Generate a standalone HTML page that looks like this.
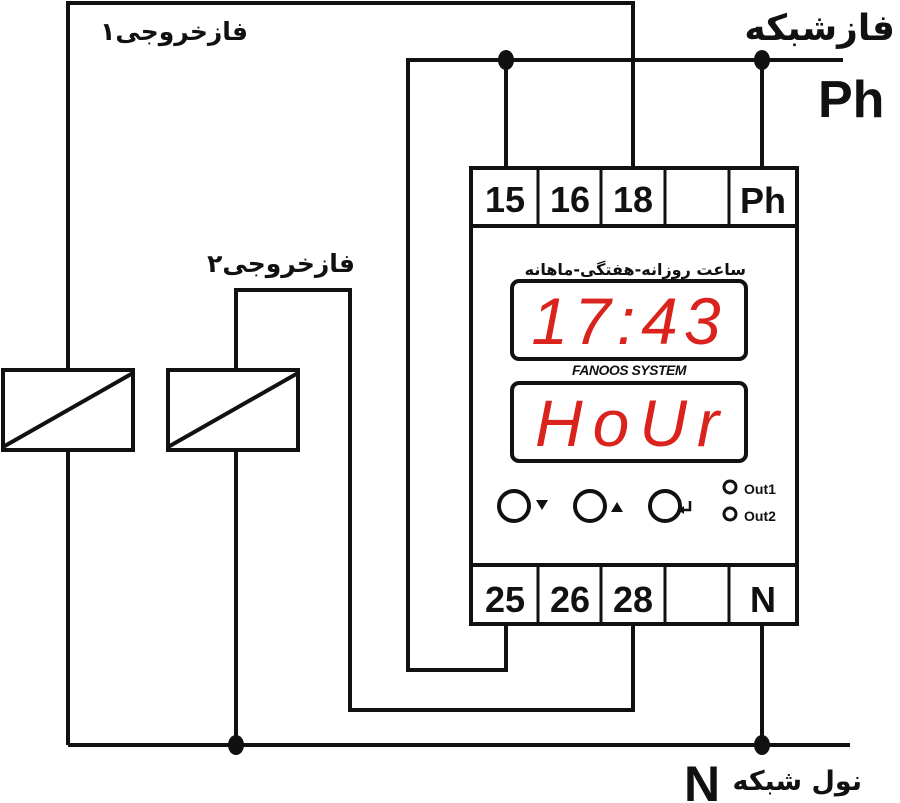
<!DOCTYPE html>
<html><head><meta charset="utf-8"><style>
html,body{margin:0;padding:0;background:#fff;}
svg{display:block}
text{font-family:"Liberation Sans","DejaVu Sans",sans-serif;font-weight:bold;}
.fa{font-family:"DejaVu Sans","Noto Sans CJK SC",sans-serif;font-weight:bold;}
</style></head><body>
<svg width="900" height="803" viewBox="0 0 900 803" xmlns="http://www.w3.org/2000/svg">
<g fill="none" stroke="#111" stroke-width="4" stroke-linejoin="miter">
  <polyline points="68,370 68,3 633,3 633,167"/>
  <line x1="68" y1="450" x2="68" y2="745"/>
  <polyline points="843,60 408,60 408,670 506,670 506,625"/>
  <line x1="506" y1="60" x2="506" y2="167"/>
  <line x1="762" y1="60" x2="762" y2="167"/>
  <polyline points="236,370 236,290 350,290 350,710 633,710 633,625"/>
  <line x1="236" y1="450" x2="236" y2="745"/>
  <line x1="68" y1="745" x2="850" y2="745"/>
  <line x1="762" y1="625" x2="762" y2="745"/>
  <rect x="3" y="370" width="130" height="80" fill="#fff"/>
  <line x1="3" y1="447" x2="133" y2="373"/>
  <rect x="168" y="370" width="130" height="80" fill="#fff"/>
  <line x1="168" y1="447" x2="298" y2="373"/>
  <rect x="471" y="168" width="326" height="456" fill="#fff"/>
  <line x1="471" y1="226" x2="797" y2="226"/>
  <line x1="471" y1="565" x2="797" y2="565"/>
  <g stroke-width="3">
  <line x1="538" y1="168" x2="538" y2="226"/><line x1="601" y1="168" x2="601" y2="226"/>
  <line x1="665" y1="168" x2="665" y2="226"/><line x1="729" y1="168" x2="729" y2="226"/>
  <line x1="538" y1="565" x2="538" y2="624"/><line x1="601" y1="565" x2="601" y2="624"/>
  <line x1="665" y1="565" x2="665" y2="624"/><line x1="729" y1="565" x2="729" y2="624"/>
  </g>
  <rect x="512" y="281" width="234" height="78" rx="7"/>
  <rect x="512" y="383" width="234" height="78" rx="7"/>
  <circle cx="514" cy="506" r="15"/>
  <circle cx="590" cy="506" r="15"/>
  <circle cx="665" cy="506" r="15"/>
  <circle cx="730" cy="487" r="6" stroke-width="3"/>
  <circle cx="730" cy="514" r="6" stroke-width="3"/>
  <polyline points="681,510 690,510 690,501" stroke-width="2.5"/>
</g>
<g fill="#111">
  <ellipse cx="506" cy="60" rx="8" ry="10"/>
  <ellipse cx="762" cy="60" rx="8" ry="10"/>
  <ellipse cx="236" cy="745" rx="8" ry="10"/>
  <ellipse cx="762" cy="745" rx="8" ry="10"/>
  <polygon points="536,500 548,500 542,510"/>
  <polygon points="611,512 623,512 617,502"/>
  <polygon points="678,510 684,506 684,514"/>
</g>
<g font-size="36" text-anchor="middle" fill="#111">
  <text x="505" y="212">15</text><text x="570" y="212">16</text><text x="633" y="212">18</text><text x="763" y="213">Ph</text>
  <text x="505" y="612">25</text><text x="570" y="612">26</text><text x="633" y="612">28</text><text x="763" y="612">N</text>
</g>
<text x="818" y="117" font-size="52" fill="#111">Ph</text>
<text x="684" y="801" font-size="50" fill="#111">N</text>
<text x="744" y="494" font-size="14" fill="#111">Out1</text>
<text x="744" y="521" font-size="14" fill="#111">Out2</text>
<text x="629" y="375" font-size="14" text-anchor="middle" fill="#111" font-style="italic" letter-spacing="-0.5">FANOOS SYSTEM</text>
<g fill="#d9231c" font-style="italic" text-anchor="middle">
<text x="629" y="344" font-size="66" style="font-family:'Liberation Sans Narrow','Liberation Sans',sans-serif;font-weight:normal" letter-spacing="6">17:43</text>
<text x="632" y="446" font-size="66" style="font-family:'Liberation Sans Narrow','Liberation Sans',sans-serif;font-weight:normal" letter-spacing="10">HoUr</text>
</g>
<g fill="#111">
<text class="fa" x="895" y="40" font-size="36" direction="rtl">فازشبکه</text>
<text class="fa" x="248" y="40" font-size="25" direction="rtl">فازخروجی۱</text>
<text class="fa" x="355" y="272" font-size="25" direction="rtl">فازخروجی۲</text>
<text class="fa" x="862" y="790" font-size="27" direction="rtl">نول شبکه</text>
<text class="fa" x="746" y="275" font-size="16" direction="rtl">ساعت روزانه-هفتگی-ماهانه</text>
</g>
</svg>
</body></html>
